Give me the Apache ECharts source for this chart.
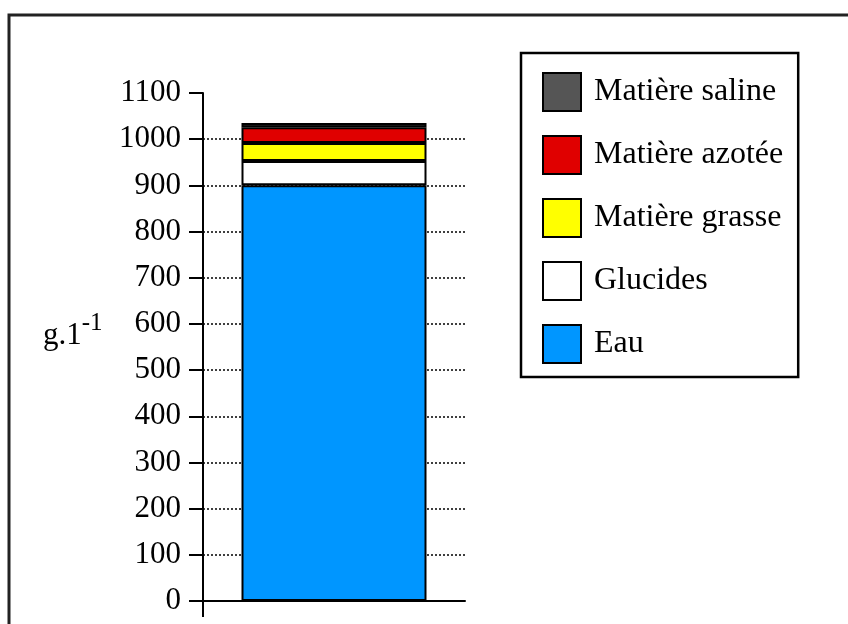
<!DOCTYPE html>
<html>
<head>
<meta charset="utf-8">
<script src="https://cdn.jsdelivr.net/npm/echarts@6/dist/echarts.min.js"></script>
<style>
  html, body { margin: 0; padding: 0; background: #fff; }
  #chart { width: 848px; height: 624px; }
</style>
</head>
<body>
<div id="chart"></div>
<script>
// Composition du lait (g par litre), barre empilée unique
const categories = [''];
const seriesNames = ['Eau', 'Glucides', 'Matière grasse', 'Matière azotée', 'Matière saline'];
const eau = [900];
const glucides = [53];
const matiereGrasse = [39];
const matiereAzotee = [34];
const matiereSaline = [9];
const legendOrder = ['Matière saline', 'Matière azotée', 'Matière grasse', 'Glucides', 'Eau'];
const yTicks = { min: 0, max: 1100, step: 100 };

const colors = {
  'Eau': '#0096ff',
  'Glucides': '#ffffff',
  'Matière grasse': '#ffff00',
  'Matière azotée': '#e00000',
  'Matière saline': '#555555'
};
const valuesByName = {
  'Eau': eau,
  'Glucides': glucides,
  'Matière grasse': matiereGrasse,
  'Matière azotée': matiereAzotee,
  'Matière saline': matiereSaline
};

const serif = '"Liberation Serif", "DejaVu Serif", serif';

const chart = echarts.init(document.getElementById('chart'), null, { renderer: 'canvas' });

chart.setOption({
  animation: false,
  backgroundColor: '#fff',
  title: {
    text: '{a|g.1}{s|-1}',
    left: 38,
    top: 306,
    textStyle: {
      fontWeight: 'normal',
      rich: {
        a: { fontFamily: serif, fontSize: 31, fontWeight: 'normal', color: '#000', verticalAlign: 'bottom', lineHeight: 40 },
        s: { fontFamily: serif, fontSize: 25, fontWeight: 'normal', color: '#000', verticalAlign: 'top', lineHeight: 40, padding: [0, 0, 14, 0] }
      }
    }
  },
  legend: {
    data: legendOrder,
    orient: 'vertical',
    left: 521,
    top: 53,
    padding: [19, 15, 13, 21],
    borderColor: '#000',
    borderWidth: 2.5,
    itemWidth: 38,
    itemHeight: 38,
    itemGap: 23,
    selectedMode: false,
    icon: 'rect',
    textStyle: {
      fontFamily: serif,
      fontSize: 32,
      color: '#000',
      padding: [0, 0, 0, 8]
    }
  },
  grid: { left: 203, right: 383, top: 93, bottom: 23, containLabel: false },
  xAxis: {
    type: 'category',
    data: categories,
    axisLine: { show: true, lineStyle: { color: '#000', width: 2 } },
    axisTick: { show: false },
    axisLabel: { show: false },
    splitLine: { show: false }
  },
  yAxis: {
    type: 'value',
    min: yTicks.min,
    max: yTicks.max,
    interval: yTicks.step,
    axisLine: { show: true, lineStyle: { color: '#000', width: 2 } },
    axisTick: { show: true, length: 14, lineStyle: { color: '#000', width: 2 } },
    axisLabel: {
      margin: 22,
      fontFamily: serif,
      fontSize: 31,
      color: '#000',
      formatter: v => String(v)
    },
    splitLine: {
      show: true,
      showMinLine: false,
      showMaxLine: false,
      lineStyle: { color: '#000', width: 1.5, type: [2, 2] }
    }
  },
  series: seriesNames.map(name => ({
    name: name,
    type: 'bar',
    stack: 'lait',
    barWidth: 185,
    data: valuesByName[name],
    itemStyle: { color: colors[name], borderColor: '#000', borderWidth: 2 },
    emphasis: { disabled: true }
  })),
  graphic: [
    {
      type: 'rect',
      silent: true,
      z: -10,
      shape: { x: 9, y: 15, width: 1000, height: 1000 },
      style: { fill: 'none', stroke: '#222', lineWidth: 3 }
    },
    {
      type: 'line',
      silent: true,
      shape: { x1: 203, y1: 601, x2: 203, y2: 617 },
      style: { stroke: '#000', lineWidth: 2 }
    }
  ]
});
</script>
</body>
</html>
